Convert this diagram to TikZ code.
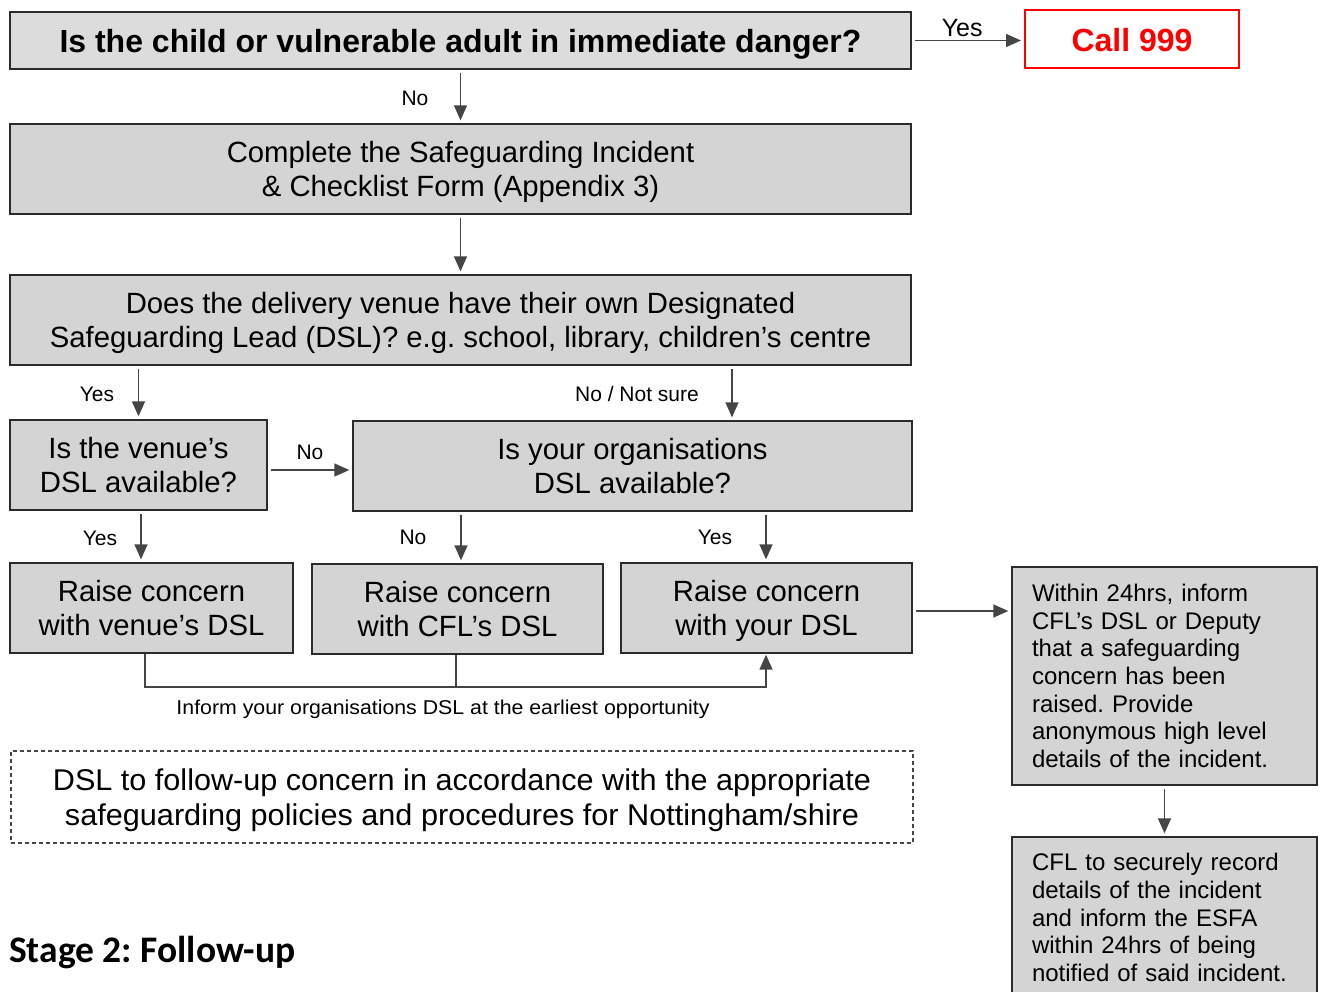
\documentclass[tikz,border=0pt]{standalone}
\usepackage{fontspec}
\usepackage{graphicx}
\setmainfont{Liberation Sans}
\newfontfamily\stagefont{Carlito}
\usetikzlibrary{arrows.meta}
\frenchspacing
\definecolor{boxfill}{HTML}{D4D4D4}
\definecolor{topfill}{HTML}{DCDCDC}
\definecolor{edgec}{HTML}{2B2B2B}
\definecolor{arr}{HTML}{454545}
\definecolor{callred}{HTML}{FF0000}
\newcommand\topstr{\rule{0pt}{0.95em}}
\newcommand\botstr{\rule[-0.23em]{0pt}{0.23em}}
\begin{document}
\begin{tikzpicture}[x=1pt,y=-1pt,
  box/.style={draw=edgec, fill=boxfill, line width=1.3pt, inner sep=0pt, align=center,
    font=\fontsize{29.3}{34}\selectfont},
  sidebox/.style={draw=edgec, fill=boxfill, line width=1.3pt, inner sep=0pt,
    text width=265pt, align=left, minimum width=305pt, font=\fontsize{24}{27.7}\selectfont},
  arrow/.style={draw=arr, line width=1.4pt, -{Triangle[length=15pt,width=13pt]},
    shorten <=3pt, shorten >=3pt},
  plain/.style={draw=arr, line width=1.4pt},
  lbl/.style={font=\fontsize{21}{24}\selectfont, inner sep=0pt},
]
\useasboundingbox (0,0) rectangle (1320,992);

% nodes
\node[box, fill=topfill, minimum width=901pt, minimum height=57pt,
  font=\fontsize{32}{36}\selectfont\bfseries]
  (q1) at (460.5,40.5) {\topstr Is the child or vulnerable adult in immediate danger?\botstr};
\node[draw=callred, fill=white, line width=2pt, inner sep=0pt, minimum width=214pt,
  minimum height=58pt, text=callred, font=\fontsize{32}{36}\selectfont\bfseries]
  (call) at (1132,39.5) {\topstr Call 999\botstr};
\node[box, minimum width=901pt, minimum height=90pt] (form) at (460.5,169)
  {\topstr Complete the Safeguarding Incident\\ \& Checklist Form (Appendix 3)\botstr};
\node[box, minimum width=901pt, minimum height=90pt] (venue) at (460.5,320)
  {\topstr Does the delivery venue have their own Designated\\ Safeguarding Lead (DSL)? e.g. school, library, children’s centre\botstr};
\node[box, minimum width=257pt, minimum height=90pt] (vdsl) at (138.5,465)
  {\topstr Is the venue’s\\ DSL available?\botstr};
\node[box, minimum width=559pt, minimum height=90pt] (odsl) at (632.5,466)
  {\topstr Is your organisations\\ DSL available?\botstr};
\node[box, minimum width=283pt, minimum height=90pt] (rv) at (151.5,608)
  {\topstr Raise concern\\ with venue’s DSL\botstr};
\node[box, minimum width=291pt, minimum height=90pt] (rc) at (457.5,609)
  {\topstr Raise concern\\ with CFL’s DSL\botstr};
\node[box, minimum width=291pt, minimum height=90pt] (ry) at (766.5,608)
  {\topstr Raise concern\\ with your DSL\botstr};
\node[sidebox, minimum height=218pt] (inf) at (1164.5,676)
  {Within 24hrs, inform\\ CFL’s DSL or Deputy\\ that a safeguarding\\ concern has been\\ raised. Provide\\ anonymous high level\\ details of the incident.};
\node[sidebox, minimum height=161pt] (rec) at (1164.5,917.5)
  {CFL to securely record\\ details of the incident\\ and inform the ESFA\\ within 24hrs of being\\ notified of said incident.};
\node[draw=arr, line width=1.1pt, dash pattern=on 4pt off 3pt, inner sep=0pt,
  minimum width=902pt, minimum height=92pt, align=center, font=\fontsize{30}{34.5}\selectfont]
  (dsl) at (462,797)
  {\topstr\resizebox{818pt}{\height}{DSL to follow-up concern in accordance with the appropriate}\\
   \resizebox{794pt}{\height}{safeguarding policies and procedures for Nottingham/shire}\botstr};
\node[anchor=west, inner sep=0pt, font=\fontsize{37.5}{40}\stagefont\bfseries] (stage) at (9,953)
  {Stage 2: Follow-up};

% helper coordinates
\coordinate (xa) at (732,0);
\coordinate (xb) at (141,0);
\coordinate (xc) at (461,0);
\coordinate (xd) at (145,0);
\coordinate (xe) at (456,0);
\coordinate (xf) at (766,0);
\coordinate (yj) at (0,687);

% connectors
\draw[arrow] (q1.east) -- (q1.east -| call.west)
  node[lbl, font=\fontsize{25}{28}\selectfont, pos=0.45, above=3pt] (lyes0) {Yes};
\draw[arrow] (q1.south) -- (form.north);
\node[lbl] (lno1) at (415,98) {No};
\draw[arrow] (form.south) -- (venue.north);
\draw[arrow] (venue.south -| vdsl) -- (vdsl.north);
\node[lbl] (lyes1) at (97,394) {Yes};
\draw[arrow] (venue.south -| xa) -- (odsl.north -| xa);
\node[lbl] (lns) at (637,394) {No / Not sure};
\draw[arrow] ([yshift=-5pt]vdsl.east) -- ([yshift=-5pt]vdsl.east -| odsl.west);
\node[lbl] (lno2) at (310,452) {No};
\draw[arrow] (vdsl.south -| xb) -- (rv.north -| xb);
\node[lbl] (lyes2) at (100,538) {Yes};
\draw[arrow] (odsl.south -| xc) -- (rc.north -| xc);
\node[lbl] (lno3) at (413,537) {No};
\draw[arrow] (odsl.south -| xf) -- (ry.north -| xf);
\node[lbl] (lyes3) at (715,537) {Yes};
\draw[plain, -{Triangle[length=15pt,width=13pt]}, shorten >=1pt]
  (rv.south -| xd) -- (yj -| xd) -- (yj -| xf) -- (ry.south -| xf);
\draw[plain] (rc.south -| xe) -- (yj -| xe);
\node[inner sep=0pt, font=\fontsize{20}{24}\selectfont] (linf) at (443,709)
  {\resizebox{533pt}{\height}{Inform your organisations DSL at the earliest opportunity}};
\draw[arrow] ([yshift=-3pt]ry.east) -- ([yshift=-3pt]ry.east -| inf.west);
\draw[arrow] (inf.south) -- (rec.north);
\end{tikzpicture}
\end{document}
